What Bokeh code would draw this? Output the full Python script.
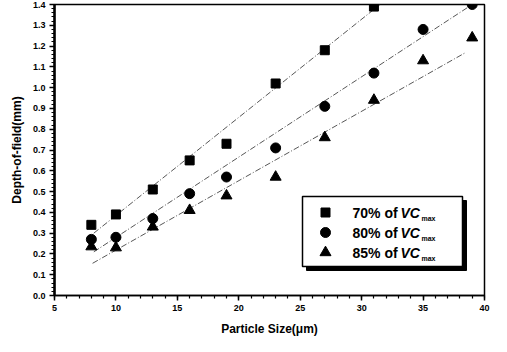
from bokeh.plotting import figure
from bokeh.models import Range1d, BoxAnnotation, Label, SingleIntervalTicker, FixedTicker
from bokeh.embed import file_html
from bokeh.resources import INLINE

# ---- data ----
x_sq = [8, 10, 13, 16, 19, 23, 27, 31]
y_sq = [0.34, 0.39, 0.51, 0.65, 0.73, 1.02, 1.18, 1.39]
x_ci = [8, 10, 13, 16, 19, 23, 27, 31, 35, 39]
y_ci = [0.27, 0.28, 0.37, 0.49, 0.57, 0.71, 0.91, 1.07, 1.28, 1.40]
x_tr = [8, 10, 13, 16, 19, 23, 27, 31, 35, 39]
y_tr = [0.235, 0.23, 0.33, 0.41, 0.48, 0.57, 0.76, 0.94, 1.13, 1.24]

# fitted lines (end points)
fit_sq_x = [8.2, 31.5]
fit_sq_y = [0.30, 1.40]
fit_ci_x = [8.2, 39.0]
fit_ci_y = [0.21, 1.40]
fit_tr_x = [8.1, 38.5]
fit_tr_y = [0.155, 1.17]

y_ticks = [0.0, 0.1, 0.2, 0.3, 0.4, 0.5, 0.6, 0.7, 0.8, 0.9, 1.0, 1.1, 1.2, 1.3, 1.4]
y_tick_labels = {t: f"{t:.1f}" for t in y_ticks}
labels_pct = ["70% of ", "80% of ", "85% of "]

FONT = "Liberation Sans"
X0, X1, Y0, Y1 = 5, 40, 0, 1.4
FW, FH = 430, 291

p = figure(frame_width=FW, frame_height=FH, output_backend="svg",
           toolbar_location=None,
           x_range=Range1d(X0, X1), y_range=Range1d(Y0, Y1),
           min_border_left=54, min_border_right=7,
           min_border_top=4, min_border_bottom=41)
p.grid.visible = False
p.background_fill_color = "white"
p.border_fill_color = "white"
p.outline_line_color = "black"
p.outline_line_width = 1.5

# axes
p.xaxis.ticker = SingleIntervalTicker(interval=5, num_minor_ticks=5)
y_minor = [round(i * 0.02, 2) for i in range(71)]
p.yaxis.ticker = FixedTicker(ticks=y_ticks, minor_ticks=y_minor)
p.yaxis.major_label_overrides = y_tick_labels
for ax in (p.xaxis[0], p.yaxis[0]):
    ax.major_tick_in = 0
    ax.major_tick_out = 5
    ax.minor_tick_in = 0
    ax.minor_tick_out = 3
    ax.major_tick_line_color = "black"
    ax.minor_tick_line_color = "black"
    ax.major_tick_line_width = 1.5
    ax.minor_tick_line_width = 1.2
    ax.axis_line_color = "black"
    ax.major_label_text_font = FONT
    ax.major_label_text_font_style = "bold"
    ax.major_label_text_font_size = "9px"
    ax.major_label_text_color = "black"
    ax.axis_label_text_font = FONT
    ax.axis_label_text_font_style = "bold"
    ax.axis_label_text_font_size = "12px"
    ax.axis_label_text_color = "black"
    ax.major_label_standoff = 4
p.yaxis.axis_line_width = 2.5
p.xaxis.axis_line_width = 1.5
p.xaxis.axis_label = "Particle Size(\u03bcm)"
p.yaxis.axis_label = "Depth-of-field(mm)"
p.xaxis.axis_label_standoff = 8
p.yaxis.axis_label_standoff = 6

# fit lines
line_kw = dict(line_color="#444444", line_width=0.9, line_dash="6 2 1 2")
p.line(fit_sq_x, fit_sq_y, **line_kw)
p.line(fit_ci_x, fit_ci_y, **line_kw)
p.line(fit_tr_x, fit_tr_y, **line_kw)

# data points
p.scatter(x_sq, y_sq, marker="square", size=9, color="black")
p.scatter(x_ci, y_ci, marker="circle", size=10, color="black")
p.scatter(x_tr, y_tr, marker="triangle", size=11, color="black")

# ---- hand-built legend (frame pixels) ----
def dx(sx):
    return X0 + sx * (X1 - X0) / FW

def dy(sy):
    return Y0 + sy * (Y1 - Y0) / FH

bl, br, bb, bt = 248, 408, 29, 99
p.add_layout(BoxAnnotation(left=dx(bl + 4), right=dx(br + 4), bottom=dy(bb - 4), top=dy(bt - 4),
                           fill_color="black", fill_alpha=1, line_color="black", line_alpha=1,
                           level="annotation"))
p.add_layout(BoxAnnotation(left=dx(bl), right=dx(br), bottom=dy(bb), top=dy(bt),
                           fill_color="white", fill_alpha=1, line_color="black", line_alpha=1,
                           line_width=1.5, level="annotation"))

rows = [83, 63, 43]
markers = ["square", "circle", "triangle"]
msizes = [9, 10, 11]
for r, m, s, t in zip(rows, markers, msizes, labels_pct):
    p.scatter([dx(271)], [dy(r)], marker=m, size=s, color="black", level="overlay")
    p.add_layout(Label(x=298, y=r, x_units="screen", y_units="screen", text=t,
                       text_font=FONT, text_font_style="bold", text_font_size="14px",
                       text_baseline="middle", text_color="black", level="overlay"))
    p.add_layout(Label(x=346, y=r, x_units="screen", y_units="screen", text="VC",
                       text_font=FONT, text_font_style="bold italic", text_font_size="14px",
                       text_baseline="middle", text_color="black", level="overlay"))
    p.add_layout(Label(x=367, y=r - 6, x_units="screen", y_units="screen", text="max",
                       text_font=FONT, text_font_style="bold", text_font_size="7px",
                       text_baseline="middle", text_color="black", level="overlay"))

open("out.html", "w").write(file_html(p, INLINE))
